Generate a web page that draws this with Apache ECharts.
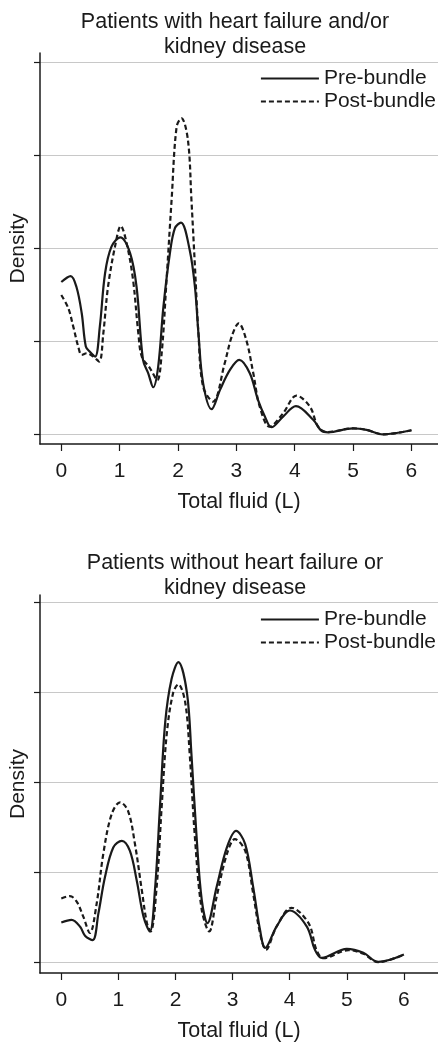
<!DOCTYPE html>
<html>
<head>
<meta charset="utf-8">
<script src="https://cdn.jsdelivr.net/npm/echarts@6/dist/echarts.min.js"></script>
<style>
html,body{margin:0;padding:0;background:#fff;}
#chart{width:438px;height:1043px;}
</style>
</head>
<body>
<div id="chart"></div>
<script>
const titles = ["Patients with heart failure and/or\nkidney disease", "Patients without heart failure or\nkidney disease"];
const seriesNames = ["Pre-bundle", "Post-bundle"];
const xTicks = [0, 1, 2, 3, 4, 5, 6];
const yTicks = [0, 0.5, 1, 1.5, 2];

// Panel 1: heart failure and/or kidney disease
const hfPreX = [0, 0.16, 0.26, 0.35, 0.42, 0.49, 0.58, 0.66, 0.75, 0.86, 1.01, 1.18, 1.29, 1.40, 1.49, 1.575, 1.66, 1.75, 1.86, 1.947, 2.05, 2.20, 2.29, 2.35, 2.43, 2.575, 2.72, 2.89, 3.05, 3.23, 3.37, 3.49, 3.60, 3.80, 4.02, 4.32, 4.46, 4.57, 5.0, 5.23, 5.51, 6.0];
const hfPreY = [0.817, 0.849, 0.79, 0.649, 0.47, 0.442, 0.416, 0.577, 0.864, 1.007, 1.057, 0.971, 0.79, 0.398, 0.326, 0.251, 0.362, 0.684, 0.97, 1.106, 1.136, 0.989, 0.79, 0.541, 0.273, 0.133, 0.237, 0.344, 0.398, 0.326, 0.183, 0.093, 0.036, 0.093, 0.15, 0.075, 0.016, 0.009, 0.03, 0.022, -0.002, 0.02];
const hfPostX = [0, 0.12, 0.205, 0.29, 0.35, 0.435, 0.55, 0.65, 0.72, 0.80, 0.92, 1.02, 1.12, 1.23, 1.32, 1.38, 1.52, 1.645, 1.72, 1.80, 1.89, 1.976, 2.06, 2.17, 2.23, 2.29, 2.35, 2.43, 2.60, 2.80, 2.92, 3.04, 3.17, 3.29, 3.40, 3.57, 3.80, 4.03, 4.26, 4.40, 4.55, 5.0, 5.23, 5.51, 6.0];
const hfPostY = [0.747, 0.676, 0.577, 0.47, 0.425, 0.434, 0.416, 0.389, 0.541, 0.79, 1.007, 1.118, 1.025, 0.828, 0.541, 0.416, 0.353, 0.29, 0.434, 0.81, 1.258, 1.652, 1.697, 1.58, 1.258, 0.90, 0.541, 0.254, 0.174, 0.38, 0.523, 0.595, 0.505, 0.326, 0.147, 0.039, 0.111, 0.206, 0.147, 0.039, 0.01, 0.03, 0.022, -0.002, 0.02];

// Panel 2: without heart failure or kidney disease
const noPreX = [0, 0.18, 0.33, 0.415, 0.55, 0.65, 0.765, 0.91, 1.06, 1.20, 1.32, 1.44, 1.55, 1.64, 1.73, 1.82, 1.93, 2.05, 2.20, 2.28, 2.37, 2.46, 2.56, 2.72, 2.90, 3.06, 3.22, 3.36, 3.48, 3.57, 3.77, 4.0, 4.30, 4.44, 4.56, 5.0, 5.29, 5.55, 6.0];
const noPreY = [0.223, 0.238, 0.20, 0.15, 0.125, 0.274, 0.476, 0.64, 0.677, 0.622, 0.458, 0.256, 0.174, 0.403, 0.878, 1.336, 1.574, 1.669, 1.50, 1.153, 0.695, 0.348, 0.22, 0.421, 0.64, 0.732, 0.659, 0.421, 0.183, 0.082, 0.201, 0.29, 0.201, 0.073, 0.027, 0.077, 0.055, 0.005, 0.046];
const noPostX = [0, 0.15, 0.27, 0.385, 0.50, 0.62, 0.735, 0.88, 1.03, 1.17, 1.29, 1.41, 1.50, 1.565, 1.67, 1.76, 1.85, 1.96, 2.05, 2.17, 2.25, 2.34, 2.46, 2.59, 2.72, 2.90, 3.04, 3.22, 3.36, 3.48, 3.585, 3.77, 4.03, 4.33, 4.47, 4.59, 5.03, 5.29, 5.55, 6.0];
const noPostY = [0.357, 0.37, 0.339, 0.256, 0.165, 0.33, 0.604, 0.823, 0.891, 0.842, 0.659, 0.403, 0.22, 0.174, 0.421, 0.878, 1.281, 1.50, 1.546, 1.446, 1.153, 0.695, 0.293, 0.174, 0.366, 0.604, 0.686, 0.622, 0.384, 0.165, 0.073, 0.201, 0.305, 0.22, 0.07, 0.025, 0.07, 0.05, 0.003, 0.045];

const zip = (xs, ys) => xs.map((x, i) => [x, ys[i]]);
const FONT = '"Liberation Sans", Arial, Helvetica, sans-serif';
const INK = '#1a1a1a';

function xAxis(gridIndex, min, max) {
  return {
    type: 'value', gridIndex, min, max,
    name: 'Total fluid (L)', nameLocation: 'middle', nameGap: 47,
    nameTextStyle: { fontSize: 21.5, color: INK, fontFamily: FONT },
    axisLine: { show: true, onZero: false, lineStyle: { color: INK, width: 1.5 } },
    axisTick: { show: true, length: 7, customValues: xTicks, lineStyle: { color: INK, width: 1.2 } },
    axisLabel: { show: true, customValues: xTicks, margin: 17, fontSize: 21, color: INK, fontFamily: FONT },
    splitLine: { show: false }
  };
}
function yAxis(gridIndex, min, max) {
  return {
    type: 'value', gridIndex, min, max,
    name: 'Density', nameLocation: 'middle', nameGap: 11,
    nameTextStyle: { fontSize: 21, color: INK, fontFamily: FONT },
    axisLine: { show: true, onZero: false, lineStyle: { color: INK, width: 1.5 } },
    axisTick: { show: true, length: 6, customValues: yTicks, lineStyle: { color: INK, width: 1.2 } },
    axisLabel: { show: false, customValues: yTicks },
    splitLine: { show: true, lineStyle: { color: '#c8c8c8', width: 1 } }
  };
}
function line(name, idx, data, dashed) {
  return {
    name, type: 'line', xAxisIndex: idx, yAxisIndex: idx, data,
    smooth: 0.35, symbol: 'none', animation: false,
    lineStyle: { color: INK, width: 2.2, type: dashed ? [5, 3] : 'solid' },
    itemStyle: { color: INK }
  };
}
function legend(top) {
  return {
    data: seriesNames, orient: 'vertical', right: 2, top, padding: 0,
    itemWidth: 58, itemHeight: 12, itemGap: 2,
    itemStyle: { opacity: 0 },
    textStyle: { fontSize: 21, color: INK, fontFamily: FONT },
    selectedMode: false
  };
}

const chart = echarts.init(document.getElementById('chart'), null, { renderer: 'canvas' });
chart.setOption({
  backgroundColor: '#fff',
  animation: false,
  textStyle: { fontFamily: FONT },
  title: [
    { text: titles[0], left: 235, top: 9, textAlign: 'center', padding: 0,
      textStyle: { fontSize: 21.5, fontWeight: 'normal', color: INK, lineHeight: 25.5, fontFamily: FONT } },
    { text: titles[1], left: 235, top: 550, textAlign: 'center', padding: 0,
      textStyle: { fontSize: 21.5, fontWeight: 'normal', color: INK, lineHeight: 25.5, fontFamily: FONT } }
  ],
  legend: [legend(68), legend(609)],
  grid: [
    { left: 40, right: 0, top: 53, height: 391 },
    { left: 40, right: 0, top: 595, height: 382 }
  ],
  xAxis: [xAxis(0, -0.365, 6.455), xAxis(1, -0.373, 6.597)],
  yAxis: [yAxis(0, -0.054, 2.048), yAxis(1, -0.057, 2.042)],
  series: [
    line(seriesNames[0], 0, zip(hfPreX, hfPreY), false),
    line(seriesNames[1], 0, zip(hfPostX, hfPostY), true),
    line(seriesNames[0], 1, zip(noPreX, noPreY), false),
    line(seriesNames[1], 1, zip(noPostX, noPostY), true)
  ]
});
</script>
</body>
</html>
